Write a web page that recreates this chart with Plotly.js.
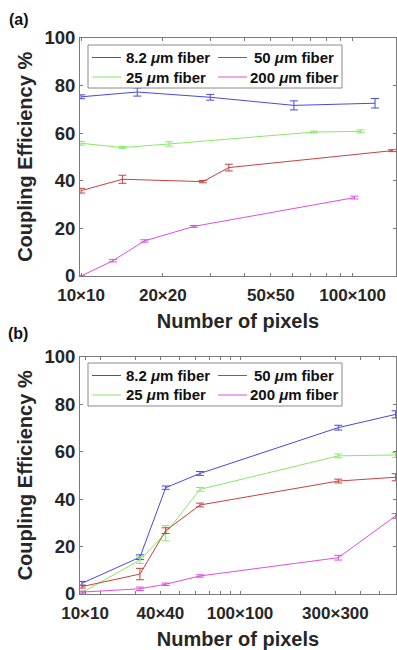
<!DOCTYPE html>
<html>
<head>
<meta charset="utf-8">
<script src="https://cdn.plot.ly/plotly-3.0.1.min.js"></script>
<style>html,body{margin:0;padding:0;background:#fff;}</style>
</head>
<body>
<div id="chart" style="width:397px;height:650px;"></div>
<script>
// ---- Panel (a) data: x = side length N of an N×N pixel grid ----
const aX_blue = [10, 16.1, 29.9, 60.8, 121];
const aY_blue = [75.2, 77.2, 75.0, 71.6, 72.5];
const aE_blue = [0.8, 1.7, 1.2, 1.9, 2.0];

const aX_green = [10, 14.2, 21.1, 72, 107];
const aY_green = [55.7, 53.9, 55.4, 60.4, 60.7];
const aE_green = [0.8, 0.5, 0.9, 0.4, 0.6];

const aX_red = [10, 14.2, 28.1, 35.0, 140];
const aY_red = [35.8, 40.6, 39.6, 45.5, 52.6];
const aE_red = [1.0, 1.7, 0.5, 1.4, 0.4];

const aX_mag = [10, 13.1, 17.1, 26.0, 101.6];
const aY_mag = [0.0, 6.4, 14.7, 20.8, 32.9];
const aE_mag = [0.3, 0.5, 0.5, 0.4, 0.6];

// ---- Panel (b) data ----
const bX = [16.2, 31.6, 42.5, 63.1, 310, 600];
const bY_blue = [4.5, 15.5, 44.8, 50.8, 70.1, 75.7];
const bE_blue = [0.8, 1.0, 0.7, 0.8, 1.0, 1.5];
const bY_green = [0.6, 14.3, 25.6, 44.1, 58.2, 58.6];
const bE_green = [0.5, 1.4, 3.2, 0.8, 0.8, 1.0];
const bY_red = [3.1, 8.4, 26.7, 37.5, 47.6, 49.2];
const bE_red = [0.6, 2.4, 1.2, 0.8, 0.8, 1.5];
const bY_mag = [0.8, 2.2, 4.1, 7.6, 15.3, 32.9];
const bE_mag = [0.4, 0.7, 0.5, 0.5, 1.0, 1.0];

// ---- tick labels ----
const aTickVals = [10, 20, 30, 40, 50, 60, 70, 80, 90, 100];
const aTickText = ['10×10', '20×20', '', '', '50×50', '', '', '', '', '100×100'];
const bTickVals = [16.8, 20, 30, 40, 50, 60, 70, 80, 90, 100, 200, 300, 400, 500, 600];
const bTickText = ['10×10', '', '', '40×40', '', '', '', '', '', '100×100', '', '300×300', '', '', ''];
const yTickVals = [0, 20, 40, 60, 80, 100];

// series labels and colours (order: 8.2, 25, 50, 200 µm)
const names = ['8.2 <i>μ</i>m fiber', '25 <i>μ</i>m fiber', '50 <i>μ</i>m fiber', '200 <i>μ</i>m fiber'];
const colors = ['#4848e4', '#88e868', '#c84040', '#dc50dc'];
// legend grid slot of each series: [column, row]
const legendSlots = [[0, 0], [0, 1], [1, 0], [1, 1]];

function tr(x, y, e, i, panel) {
  return {
    x: x, y: y, type: 'scatter', mode: 'lines',
    name: names[i],
    showlegend: false,
    line: {color: colors[i], width: 1},
    error_y: {type: 'data', array: e, visible: true, color: colors[i], thickness: 1, width: 4},
    xaxis: panel === 'a' ? 'x' : 'x2',
    yaxis: panel === 'a' ? 'y' : 'y2'
  };
}

const data = [
  tr(aX_blue, aY_blue, aE_blue, 0, 'a'),
  tr(aX_green, aY_green, aE_green, 1, 'a'),
  tr(aX_red, aY_red, aE_red, 2, 'a'),
  tr(aX_mag, aY_mag, aE_mag, 3, 'a'),
  tr(bX, bY_blue, bE_blue, 0, 'b'),
  tr(bX, bY_green, bE_green, 1, 'b'),
  tr(bX, bY_red, bE_red, 2, 'b'),
  tr(bX, bY_mag, bE_mag, 3, 'b')
];

const W = 397, H = 650, ML = 80, MR = 1;
const PW = W - ML - MR;
const px = v => (v - ML) / PW;   // pixel x -> paper x
const py = v => 1 - v / H;       // pixel y -> paper y

const FONT = 'Liberation Sans, Arial, Helvetica, sans-serif';
const axisCol = '#7a7a7a';
const xTickFont = {family: FONT, size: 17, color: '#262626', weight: 'bold'};
const yTickFont = {family: FONT, size: 18.5, color: '#262626', weight: 'bold'};
const titleFont = {family: FONT, size: 20, color: '#262626', weight: 'bold'};

function xax(anchor, range, tv, tt) {
  return {
    type: 'log', range: range, domain: [0, 1], anchor: anchor,
    tickmode: 'array', tickvals: tv, ticktext: tt,
    ticks: 'inside', ticklen: 3, tickcolor: axisCol,
    showline: true, linecolor: axisCol, linewidth: 1, mirror: 'allticks',
    showgrid: false, zeroline: false,
    tickfont: xTickFont, ticklabelstandoff: 4,
    title: {text: 'Number of pixels', font: titleFont, standoff: 9}
  };
}
function yax(domain, anchor) {
  return {
    range: [0, 100], domain: domain, anchor: anchor,
    tickmode: 'array', tickvals: yTickVals,
    ticks: 'inside', ticklen: 3, tickcolor: axisCol,
    showline: true, linecolor: axisCol, linewidth: 1, mirror: 'allticks',
    showgrid: false, zeroline: false,
    tickfont: yTickFont,
    title: {text: 'Coupling Efficiency %', font: titleFont, standoff: 6}
  };
}

// ---- hand-drawn legend boxes (MATLAB-style, compact) ----
const shapes = [];
const annotations = [];
const legFont = {family: FONT, size: 15, color: '#111', weight: 'bold'};
function addLegend(top) {
  const left = 88, right = 342, bottom = top + 43;
  shapes.push({type: 'rect', xref: 'paper', yref: 'paper',
    x0: px(left), x1: px(right), y0: py(top), y1: py(bottom),
    line: {color: '#8a8a8a', width: 1}, fillcolor: '#ffffff', layer: 'above'});
  const rowY = [top + 12.5, top + 32];
  const lineX = [[92, 121], [218, 247]];
  for (let i = 0; i < names.length; i++) {
    const [c, r] = legendSlots[i];
    const yy = py(rowY[r]);
    shapes.push({type: 'line', xref: 'paper', yref: 'paper',
      x0: px(lineX[c][0]), x1: px(lineX[c][1]), y0: yy, y1: yy,
      line: {color: colors[i], width: 1}, layer: 'above'});
    if (c === 0) {
      annotations.push({text: names[i], xref: 'paper', yref: 'paper',
        x: px(124), y: yy, xanchor: 'left', yanchor: 'middle', showarrow: false, font: legFont});
    } else {
      annotations.push({text: names[i], xref: 'paper', yref: 'paper',
        x: px(294), y: yy, xanchor: 'center', yanchor: 'middle', showarrow: false, font: legFont});
    }
  }
}
addLegend(45);
addLegend(363);

annotations.push(
  {text: '(a)', xref: 'paper', yref: 'paper', x: px(19), y: py(19),
   xanchor: 'center', yanchor: 'middle', showarrow: false,
   font: {family: FONT, size: 16, color: '#111', weight: 'bold'}},
  {text: '(b)', xref: 'paper', yref: 'paper', x: px(18), y: py(333),
   xanchor: 'center', yanchor: 'middle', showarrow: false,
   font: {family: FONT, size: 16, color: '#111', weight: 'bold'}}
);

const layout = {
  width: W, height: H,
  margin: {l: ML, r: MR, t: 0, b: 0},
  paper_bgcolor: '#ffffff', plot_bgcolor: '#ffffff',
  showlegend: false,
  xaxis: xax('y', [0.996, 2.160], aTickVals, aTickText),
  yaxis: yax([py(276), py(37.7)], 'x'),
  xaxis2: xax('y2', [1.2, 2.78], bTickVals, bTickText),
  yaxis2: yax([py(594), py(356.7)], 'x2'),
  shapes: shapes,
  annotations: annotations
};

Plotly.newPlot('chart', data, layout, {displayModeBar: false, staticPlot: true});
</script>
</body>
</html>
